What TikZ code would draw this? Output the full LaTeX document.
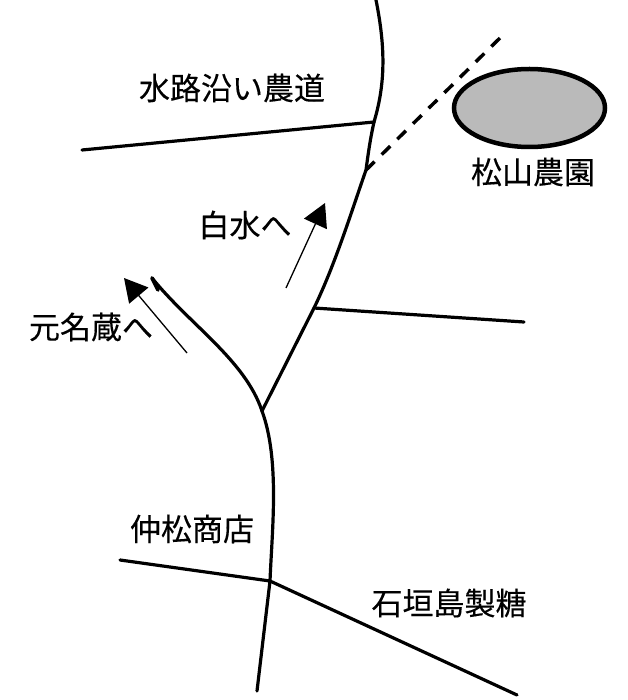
\documentclass[tikz,border=0pt]{standalone}
\usepackage{fontspec}
\newfontfamily\cjk[FakeBold=0.25]{Noto Sans CJK JP}
\usetikzlibrary{arrows.meta,shapes.geometric}
\tikzset{
  road/.style={draw=black,line width=3.2pt,line cap=round,line join=round},
  lbl/.style={font=\cjk\fontsize{31}{33}\selectfont,inner sep=0pt,anchor=center,text=black},
  dir/.style={draw=black,line width=1.3pt,-{Triangle[length=23pt,width=25pt]}},
  farm/.style={ellipse,draw=black,line width=4.5pt,fill=black!27,minimum width=151pt,minimum height=78pt,inner sep=0pt}
}
\begin{document}
\begin{tikzpicture}[x=1pt,y=-1pt]
\useasboundingbox (0,0) rectangle (627,700);
\coordinate (nt) at (376,0);
\coordinate (j1) at (374,122);
\coordinate (j2) at (366,170);
\coordinate (j3) at (314,308);
\coordinate (fork) at (262,411);
\coordinate (j4) at (270,581);
\coordinate (sb) at (257,691);
\coordinate (wa) at (82,150);
\coordinate (ea) at (524,322);
\coordinate (wb) at (120,560);
\coordinate (eb) at (517,695);
\coordinate (wc) at (152,278);
\coordinate (dash) at (500,38);
\coordinate (ga) at (286,288);
\coordinate (gah) at (325,203);
\coordinate (gb) at (187,353);
\coordinate (gbh) at (124,278);
\path[road] (nt) .. controls (386,50) and (385,85) .. (j1);
\path[road] (j1) .. controls (370,140) and (368,155) .. (j2) .. controls (352,210) and (335,265) .. (j3) -- (fork);
\path[road] (j1) -- (wa);
\path[road] (j3) -- (ea);
\path[road] (wc) .. controls (190,325) and (245,360) .. (fork);
\path[road] (fork) .. controls (280,460) and (272,530) .. (j4) -- (sb);
\path[road] (wb) -- (j4) -- (eb);
\draw[line width=3.5pt,dash pattern=on 12pt off 10pt] (j2) -- (dash);
\draw[line width=3.8pt,line cap=round] (wc) -- (158,290);
\draw[dir] (ga) -- (gah);
\draw[dir] (gb) -- (gbh);
\node[farm] (farm) at (529.5,108) {};
\node[lbl] (t1) at (232,88) {水路沿い農道};
\node[lbl] (t2) at (533,172) {松山農園};
\node[lbl] (t3) at (245,225) {白水へ};
\node[lbl] (t4) at (91,327) {元名蔵へ};
\node[lbl] (t5) at (192,529) {仲松商店};
\node[lbl] (t6) at (449,603) {石垣島製糖};
\end{tikzpicture}
\end{document}
